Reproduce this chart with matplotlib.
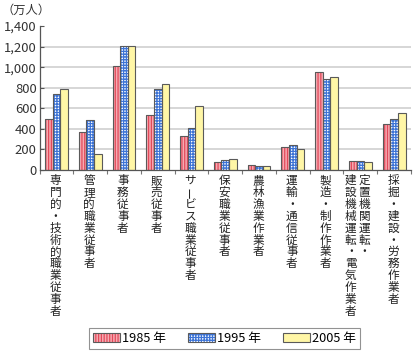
import numpy as np
import matplotlib.pyplot as plt
from matplotlib.patches import Patch
from matplotlib.legend_handler import HandlerTuple

plt.rcParams['font.family'] = ['Noto Sans CJK JP', 'DejaVu Sans']
plt.rcParams['hatch.linewidth'] = 0.9

# data (万人)
categories = [
    '専門的・技術的職業従事者',
    '管理的職業従事者',
    '事務従事者',
    '販売従事者',
    'サービス職業従事者',
    '保安職業従事者',
    '農林漁業作業者',
    '運輸・通信従事者',
    '製造・制作作業者',
    ['定置機関運転・', '建設機械運転・電気作業者'],
    '採掘・建設・労務作業者',
]
years = ['1985 年', '1995 年', '2005 年']
v1985 = [500, 365, 1015, 535, 328, 81, 47, 227, 956, 87, 447]
v1995 = [738, 485, 1205, 785, 408, 97, 39, 246, 885, 87, 499]
v2005 = [788, 152, 1208, 836, 622, 110, 38, 201, 907, 81, 554]
yticks = [0, 200, 400, 600, 800, 1000, 1200, 1400]

fill_colors = ['#f6aab2', 'white', '#fff6a6']
hatch_colors = ['#e24a5a', '#3d74d6', '#fff6a6']
hatches = ['||||||', '++++++', '']
edge = '#5a5a5a'

fig = plt.figure(figsize=(4.15, 3.53), dpi=100)
ax = fig.add_axes([39.5 / 415, 1 - 170 / 353, (411 - 39.5) / 415, (170 - 26) / 353])

x = np.arange(len(categories))
w = 0.225
handles = []
for k, vals in enumerate([v1985, v1995, v2005]):
    pos = x + (k - 1) * w
    ax.bar(pos, vals, w, color=fill_colors[k], edgecolor=hatch_colors[k],
           hatch=hatches[k], linewidth=0, zorder=2)
    ax.bar(pos, vals, w, color='none', edgecolor=edge, linewidth=0.8, zorder=3)
    handles.append((Patch(facecolor=fill_colors[k], edgecolor=hatch_colors[k],
                          hatch=hatches[k], linewidth=0),
                    Patch(facecolor='none', edgecolor=edge, linewidth=0.8)))

ax.set_xlim(-0.5, len(categories) - 0.5)
ax.set_ylim(0, 1400)
ax.set_yticks(yticks)
ax.set_yticklabels([f'{t:,}' for t in yticks], fontsize=9.4, color='#333333')
for t in yticks[1:-1]:
    ax.axhline(t, color='#cfcfcf', lw=1.2, zorder=1)

ax.set_xticks(np.arange(-0.5, len(categories), 1.0))
ax.set_xticklabels([])
ax.tick_params(axis='x', direction='out', length=3, width=0.8, color='#777777')
ax.tick_params(axis='y', direction='in', length=3, width=0.8, color='#555555', pad=2)
for s in ['top', 'right']:
    ax.spines[s].set_visible(False)
ax.spines['left'].set_color('#555555')
ax.spines['bottom'].set_color('#555555')
ax.spines['left'].set_linewidth(0.9)
ax.spines['bottom'].set_linewidth(0.9)

# vertical Japanese labels, one character per row
pitch = 11.9
top_off = 4


def vertical_label(xc, text, dx=0):
    for i, ch in enumerate(text):
        rot = 90 if ch == 'ー' else 0
        ax.annotate(ch, xy=(xc, 0), xycoords=('data', 'axes fraction'),
                    xytext=(dx, -top_off - i * pitch), textcoords='offset pixels',
                    ha='center', va='top', fontsize=8.4, color='#222222',
                    rotation=rot, annotation_clip=False)


for i, lab in enumerate(categories):
    if isinstance(lab, list):
        vertical_label(i, lab[0], dx=4)
        vertical_label(i, lab[1], dx=-9.5)
    else:
        vertical_label(i, lab, dx=-1)

fig.text(2 / 415, 1 - 10 / 353, '（万人）', fontsize=8.8, color='#333333', va='center')

leg = fig.legend(handles, years, handler_map={tuple: HandlerTuple(ndivide=1)},
                 loc='center', bbox_to_anchor=(224.5 / 415, 1 - 338.5 / 353), ncol=3,
                 fontsize=9.2, frameon=True, fancybox=False, edgecolor='#777777',
                 handlelength=2.1, handleheight=0.75, handletextpad=0.2,
                 columnspacing=1.7, borderpad=0.3, borderaxespad=0)
leg.get_frame().set_linewidth(0.8)

fig.savefig('out.png', dpi=100)
